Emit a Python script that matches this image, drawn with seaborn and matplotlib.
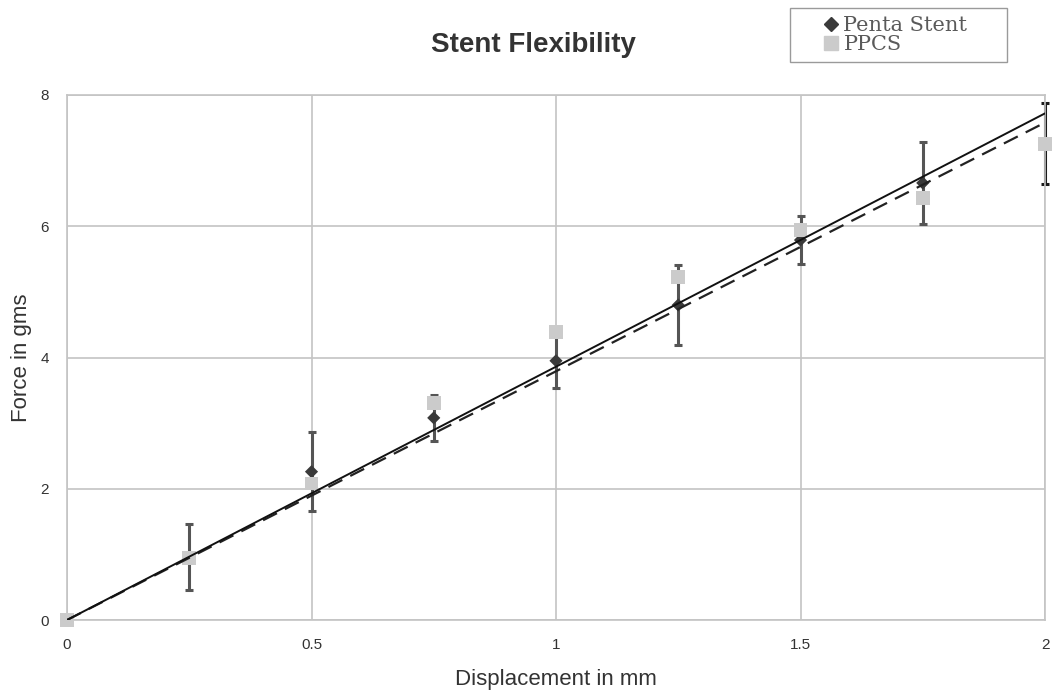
import numpy as np
import pandas as pd
import matplotlib
matplotlib.use("Agg")
import matplotlib.pyplot as plt
import seaborn as sns
from matplotlib.lines import Line2D
from matplotlib.patches import Rectangle

# ---- data ----
displacement = [0, 0.25, 0.5, 0.75, 1.0, 1.25, 1.5, 1.75]
penta_force = [0, 0.96, 2.26, 3.08, 3.95, 4.80, 5.79, 6.66]
penta_err = [0, 0.50, 0.60, 0.35, 0.41, 0.61, 0.36, 0.62]

ppcs_disp = [0, 0.25, 0.5, 0.75, 1.0, 1.25, 1.5, 1.75, 2.0]
ppcs_force = [0, 0.95, 2.08, 3.31, 4.39, 5.23, 5.94, 6.43, 7.26]
ppcs_err_disp = [2.0]
ppcs_err_force = [7.26]
ppcs_err = [0.62]

trend_x = [0, 2]
penta_trend = [0, 7.72]
ppcs_trend = [0, 7.58]

x_ticks = [0, 0.5, 1, 1.5, 2]
x_ticklabels = ["0", "0.5", "1", "1.5", "2"]
y_ticks = [0, 2, 4, 6, 8]
y_ticklabels = ["0", "2", "4", "6", "8"]

sns.set_theme(style="white")
plt.rcParams['font.family'] = ['Liberation Sans', 'DejaVu Sans']

fig = plt.figure(figsize=(10.58, 7.0), dpi=100)
ax = fig.add_axes([67/1058, 80/700, (1045-67)/1058, (620-95)/700])

grid_c = "#c4c4c4"
for xv in x_ticks:
    ax.axvline(xv, color=grid_c, lw=1.2, zorder=0)
for yv in y_ticks:
    ax.axhline(yv, color=grid_c, lw=1.2, zorder=0)

# error bars
eb1 = ax.errorbar(displacement, penta_force, yerr=penta_err, fmt="none",
                  ecolor="#555555", elinewidth=2.2, capsize=3, capthick=2.2, zorder=2)
eb2 = ax.errorbar(ppcs_err_disp, ppcs_err_force, yerr=ppcs_err, fmt="none",
                  ecolor="#1a1a1a", elinewidth=2.2, capsize=3, capthick=2.2, zorder=2)
for eb in (eb1, eb2):
    for child in eb.get_children():
        child.set_clip_on(False)

# markers
ddf = pd.DataFrame({"x": displacement, "y": penta_force})
sns.scatterplot(data=ddf, x="x", y="y", ax=ax, marker="D", s=45,
                color="#3a3a3a", edgecolor="none", zorder=3, clip_on=False)
pdf = pd.DataFrame({"x": ppcs_disp, "y": ppcs_force})
sns.scatterplot(data=pdf, x="x", y="y", ax=ax, marker="s", s=100,
                color="#cbcbcb", edgecolor="none", zorder=3.5, clip_on=False)

# trend lines
tdf = pd.DataFrame({"x": trend_x, "penta": penta_trend, "ppcs": ppcs_trend})
sns.lineplot(data=tdf, x="x", y="ppcs", ax=ax, color="#222222", lw=1.6,
             linestyle=(0, (7, 4)), zorder=4)
sns.lineplot(data=tdf, x="x", y="penta", ax=ax, color="#111111", lw=1.4, zorder=4)

ax.set_xlim(0, 2)
ax.set_ylim(0, 8)
ax.set_xticks(x_ticks)
ax.set_xticklabels(x_ticklabels)
ax.set_yticks(y_ticks)
ax.set_yticklabels(y_ticklabels)
ax.tick_params(length=0, labelsize=11, colors="#333333")
ax.tick_params(axis="x", pad=13)
ax.tick_params(axis="y", pad=13)
for sp in ax.spines.values():
    sp.set_color(grid_c)
    sp.set_linewidth(1.2)
ax.set_xlabel("Displacement in mm", fontsize=16, color="#333333", labelpad=12)
ax.set_ylabel("Force in gms", fontsize=16, color="#333333", labelpad=6)

fig.text(533/1058, 1-45/700, "Stent Flexibility", ha="center", va="center",
         fontsize=20, fontweight="bold", color="#333333")

# legend box
fig.patches.append(Rectangle((790/1058, 1-62/700), (1007-790)/1058, (62-8)/700,
                             transform=fig.transFigure, fill=False,
                             edgecolor="#9a9a9a", linewidth=1.0))
handles = [
    Line2D([], [], marker="D", color="#3a3a3a", linestyle="none", markersize=7),
    Line2D([], [], marker="s", color="#cbcbcb", linestyle="none", markersize=10),
]
leg = fig.legend(handles, ["Penta Stent", "PPCS"], loc="center",
                 bbox_to_anchor=(895/1058, 1-35/700), frameon=False,
                 prop={"family": "DejaVu Serif", "size": 15},
                 handletextpad=0.2, borderpad=0.0, labelspacing=0.0,
                 handlelength=0.8, borderaxespad=0)
for t in leg.get_texts():
    t.set_color("#5a5a5a")

fig.savefig("out.png", dpi=100)
